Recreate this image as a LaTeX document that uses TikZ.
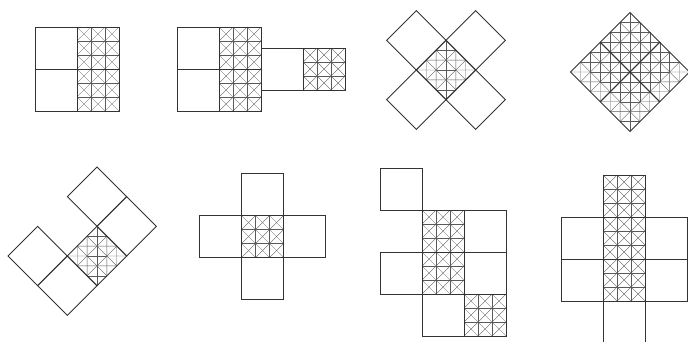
\documentclass[tikz,border=0pt]{standalone}

% hatched square and plain square, lower left corner at (#1,#2), side 1
\newcommand{\hatchsq}[2]{%
 \foreach \k in {1,2}{
  \draw[hatch] (#1+\k/3,#2) -- (#1+\k/3,#2+1);
  \draw[hatch] (#1,#2+\k/3) -- (#1+1,#2+\k/3);}
 \foreach \i in {0,1,2}{\foreach \j in {0,1,2}{
  \draw[hatch] (#1+\i/3,#2+\j/3) -- ++(1/3,1/3);
  \draw[hatch] (#1+\i/3+1/3,#2+\j/3) -- ++(-1/3,1/3);}}
 \draw[sq] (#1,#2) rectangle ++(1,1);}
\newcommand{\plainsq}[2]{\draw[sq] (#1,#2) rectangle ++(1,1);}

\begin{document}
\begin{tikzpicture}[x=1pt,y=1pt,
 sq/.style={draw=black!80,line width=0.9pt},
 hatch/.style={draw=black!65,line width=0.35pt},
 cell/.style={x=42pt,y=42pt}]
\clip (0,0) rectangle (688,341);
% top row
\begin{scope}[shift={(35,230)},cell]
\plainsq{0}{0} \plainsq{0}{1} \hatchsq{1}{0} \hatchsq{1}{1}
\end{scope}
\begin{scope}[shift={(177,230)},cell]
\plainsq{0}{0} \plainsq{0}{1} \hatchsq{1}{0} \hatchsq{1}{1}
\plainsq{2}{0.5} \hatchsq{3}{0.5}
\end{scope}
\begin{scope}[shift={(446,271)},rotate=45,cell]
\hatchsq{-0.5}{-0.5}
\plainsq{0.5}{-0.5} \plainsq{-1.5}{-0.5} \plainsq{-0.5}{0.5} \plainsq{-0.5}{-1.5}
\end{scope}
\begin{scope}[shift={(630,269)},rotate=45,cell]
\hatchsq{-1}{-1} \hatchsq{0}{-1} \hatchsq{-1}{0} \hatchsq{0}{0}
\end{scope}
% bottom row
\begin{scope}[shift={(97,85)},rotate=45,cell]
\hatchsq{-0.5}{-0.5}
\plainsq{0.5}{-0.5} \plainsq{0.5}{0.5} \plainsq{-1.5}{0.5} \plainsq{-1.5}{-0.5}
\end{scope}
\begin{scope}[shift={(262.5,104.5)},cell]
\hatchsq{-0.5}{-0.5}
\plainsq{0.5}{-0.5} \plainsq{-1.5}{-0.5} \plainsq{-0.5}{0.5} \plainsq{-0.5}{-1.5}
\end{scope}
\begin{scope}[shift={(380,5)},cell]
\plainsq{0}{3} \hatchsq{1}{2} \plainsq{2}{2}
\plainsq{0}{1} \hatchsq{1}{1} \plainsq{2}{1}
\plainsq{1}{0} \hatchsq{2}{0}
\end{scope}
\begin{scope}[shift={(561,40)},cell]
\plainsq{0}{0} \plainsq{0}{1} \hatchsq{1}{0} \hatchsq{1}{1} \hatchsq{1}{2}
\plainsq{2}{0} \plainsq{2}{1} \plainsq{1}{-1}
\end{scope}
\end{tikzpicture}
\end{document}
